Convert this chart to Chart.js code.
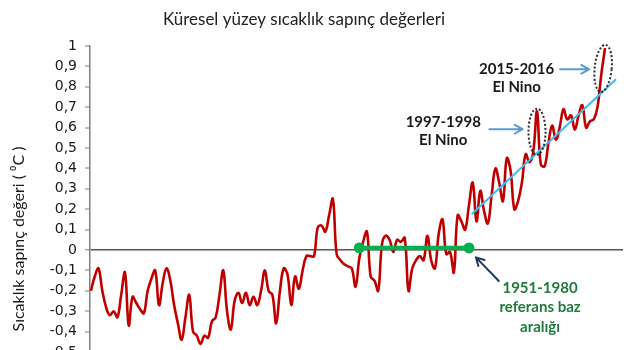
<!DOCTYPE html>
<html lang="tr">
<head>
<meta charset="utf-8">
<title>Küresel yüzey sıcaklık sapınç değerleri</title>
<script src="https://cdn.jsdelivr.net/npm/chart.js@4.4.1/dist/chart.umd.min.js"></script>
<style>
  html, body { margin: 0; padding: 0; background: #ffffff; overflow: hidden; width: 640px; height: 350px; }
  #frame { position: relative; width: 640px; height: 350px; overflow: hidden; }
  #chart { display: block; position: absolute; left: 0; top: 0; }
</style>
</head>
<body>
<div id="frame"><canvas id="chart" width="640" height="362"></canvas></div>
<script>
// Yıllık küresel yüzey sıcaklık sapması (°C), 1951-1980 ortalamasına göre
const years = [
  1880, 1881, 1882, 1883, 1884, 1885, 1886, 1887, 1888, 1889,
  1890, 1891, 1892, 1893, 1894, 1895, 1896, 1897, 1898, 1899,
  1900, 1901, 1902, 1903, 1904, 1905, 1906, 1907, 1908, 1909,
  1910, 1911, 1912, 1913, 1914, 1915, 1916, 1917, 1918, 1919,
  1920, 1921, 1922, 1923, 1924, 1925, 1926, 1927, 1928, 1929,
  1930, 1931, 1932, 1933, 1934, 1935, 1936, 1937, 1938, 1939,
  1940, 1941, 1942, 1943, 1944, 1945, 1946, 1947, 1948, 1949,
  1950, 1951, 1952, 1953, 1954, 1955, 1956, 1957, 1958, 1959,
  1960, 1961, 1962, 1963, 1964, 1965, 1966, 1967, 1968, 1969,
  1970, 1971, 1972, 1973, 1974, 1975, 1976, 1977, 1978, 1979,
  1980, 1981, 1982, 1983, 1984, 1985, 1986, 1987, 1988, 1989,
  1990, 1991, 1992, 1993, 1994, 1995, 1996, 1997, 1998, 1999,
  2000, 2001, 2002, 2003, 2004, 2005, 2006, 2007, 2008, 2009,
  2010, 2011, 2012, 2013, 2014, 2015, 2016
];
const anomaly = [
  -0.20, -0.13, -0.09, -0.20, -0.28, -0.32, -0.30, -0.33, -0.22, -0.11,
  -0.37, -0.23, -0.26, -0.29, -0.31, -0.20, -0.14, -0.10, -0.27, -0.16,
  -0.09, -0.15, -0.27, -0.36, -0.44, -0.33, -0.22, -0.40, -0.42, -0.46,
  -0.42, -0.43, -0.35, -0.33, -0.22, -0.10, -0.30, -0.39, -0.25, -0.21,
  -0.26, -0.21, -0.27, -0.23, -0.27, -0.20, -0.10, -0.20, -0.22, -0.36,
  -0.20, -0.09, -0.12, -0.27, -0.13, -0.19, -0.10, -0.03, -0.03, -0.03,
   0.11,  0.12,  0.09,  0.17,  0.25, -0.02, -0.05, -0.07, -0.08, -0.09,
  -0.18, -0.04,  0.04,  0.09, -0.13, -0.15, -0.20,  0.03,  0.07,  0.05,
  -0.01,  0.05,  0.04,  0.06, -0.20, -0.09, -0.05, -0.03, -0.05,  0.07,
  -0.05, -0.09,  0.08,  0.15, -0.02, -0.01, -0.11,  0.17,  0.14,  0.10,
   0.22,  0.33,  0.14,  0.29,  0.19,  0.13,  0.27,  0.40,  0.33,  0.24,
   0.45,  0.39,  0.20,  0.24,  0.33,  0.47,  0.43,  0.48,  0.68,  0.42,
   0.41,  0.52,  0.61,  0.54,  0.60,  0.69,  0.64,  0.66,  0.59,  0.66,
   0.71,  0.60,  0.63,  0.64,  0.70,  0.86,  0.99
];

// 1951-1980 referans dönemi (ortalama çizgisi)
const baseYears = [1951, 1980];
const baseLevel = [0.01, 0.01];

// 1980 sonrası doğrusal eğilim
const trendYears = [1980.7, 2018.9];
const trendValues = [0.175, 0.837];

// Y ekseni sınırları
const yMin = -0.5;
const yMax = 1.0;
const yStep = 0.1;

const toPoints = (xs, ys) => xs.map((x, i) => ({ x: x, y: ys[i] }));

// El Nino halkaları, açıklama yazıları ve oklar (veri koordinatlarında)
const notes = {
  rings: [
    { x: 1998.0, y: 0.580, rx: 2.25, ry: 0.113, tilt: 0.0 },
    { x: 2015.5, y: 0.890, rx: 2.25, ry: 0.116, tilt: 0.10 }
  ],
  labels: [
    { x: 1992.6, y: [0.886, 0.798], lines: ['2015-2016', 'El Nino'], color: '#1a1a1a' },
    { x: 1973.2, y: [0.629, 0.539], lines: ['1997-1998', 'El Nino'], color: '#1a1a1a' },
    { x: 1998.8, y: [-0.188, -0.281, -0.376], lines: ['1951-1980', 'referans baz', 'aralığı'], color: '#1f7a3c' }
  ],
  arrows: [
    { from: [2004.1, 0.886], to: [2011.8, 0.886], color: '#5b9bd5' },
    { from: [1985.4, 0.592], to: [1994.2, 0.592], color: '#5b9bd5' },
    { from: [1987.9, -0.152], to: [1981.85, -0.036], color: '#1f3a5f' }
  ]
};

const notesPlugin = {
  id: 'notes',
  afterDatasetsDraw(chart) {
    const { ctx, scales: { x, y } } = chart;
    ctx.save();

    // noktalı halkalar
    ctx.strokeStyle = '#2b2b2b';
    ctx.lineWidth = 2;
    ctx.setLineDash([2, 2]);
    notes.rings.forEach(r => {
      const cx = x.getPixelForValue(r.x);
      const cy = y.getPixelForValue(r.y);
      const rx = x.getPixelForValue(r.x + r.rx) - cx;
      const ry = y.getPixelForValue(r.y - r.ry) - cy;
      ctx.beginPath();
      ctx.ellipse(cx, cy, rx, ry, r.tilt, 0, Math.PI * 2);
      ctx.stroke();
    });
    ctx.setLineDash([]);

    // oklar
    notes.arrows.forEach(a => {
      const x1 = x.getPixelForValue(a.from[0]);
      const y1 = y.getPixelForValue(a.from[1]);
      const x2 = x.getPixelForValue(a.to[0]);
      const y2 = y.getPixelForValue(a.to[1]);
      const ang = Math.atan2(y2 - y1, x2 - x1);
      const head = 9;
      ctx.strokeStyle = a.color;
      ctx.lineWidth = 2;
      ctx.lineCap = 'round';
      ctx.lineJoin = 'round';
      ctx.beginPath();
      ctx.moveTo(x1, y1);
      ctx.lineTo(x2, y2);
      ctx.moveTo(x2 - head * Math.cos(ang - 0.5), y2 - head * Math.sin(ang - 0.5));
      ctx.lineTo(x2, y2);
      ctx.lineTo(x2 - head * Math.cos(ang + 0.5), y2 - head * Math.sin(ang + 0.5));
      ctx.stroke();
    });

    // açıklama yazıları
    ctx.font = 'bold 15px Lato';
    ctx.textAlign = 'center';
    ctx.textBaseline = 'middle';
    notes.labels.forEach(l => {
      ctx.fillStyle = l.color;
      l.lines.forEach((t, i) => {
        ctx.fillText(t, x.getPixelForValue(l.x), y.getPixelForValue(l.y[i]));
      });
    });
    ctx.restore();
  },
  afterDraw(chart) {
    const { ctx } = chart;
    ctx.save();
    // grafik başlığı
    ctx.fillStyle = '#222222';
    ctx.font = '17px Lato';
    ctx.textAlign = 'center';
    ctx.textBaseline = 'middle';
    ctx.fillText('Küresel yüzey sıcaklık sapınç değerleri', 304, 20);
    // dikey eksen başlığı
    ctx.translate(19, 239);
    ctx.rotate(-Math.PI / 2);
    ctx.font = '16px Lato';
    ctx.fillStyle = '#1a1a1a';
    ctx.fillText('Sıcaklık sapınç değeri ( ⁰C )', 0, 0);
    ctx.restore();
  }
};

new Chart(document.getElementById('chart'), {
  type: 'line',
  data: {
    datasets: [
      {
        label: '1951-1980 referans',
        data: toPoints(baseYears, baseLevel),
        borderColor: '#00b050',
        backgroundColor: '#00b050',
        borderWidth: 4.5,
        pointRadius: 5.5,
        pointHoverRadius: 5.5,
        pointBorderWidth: 0,
        tension: 0,
        order: 0
      },
      {
        label: 'Eğilim',
        data: toPoints(trendYears, trendValues),
        borderColor: '#3bbcf0',
        borderWidth: 2,
        pointRadius: 0,
        tension: 0,
        order: 1
      },
      {
        label: 'Sıcaklık sapması',
        data: toPoints(years, anomaly),
        borderColor: '#c00000',
        borderWidth: 2.6,
        pointRadius: 0,
        tension: 0.4,
        cubicInterpolationMode: 'default',
        order: 2
      }
    ]
  },
  options: {
    responsive: false,
    animation: false,
    events: [],
    devicePixelRatio: 1,
    layout: { padding: { top: 46, right: 17, bottom: 10, left: 0 } },
    plugins: {
      legend: { display: false },
      title: { display: false },
      tooltip: { enabled: false }
    },
    scales: {
      x: {
        type: 'linear',
        min: 1879.75,
        max: 2020.75,
        display: false
      },
      y: {
        min: yMin,
        max: yMax,
        afterFit(scale) {
          // eksen genişliği sabit; uç etiketler çizim alanını daraltmasın
          scale.width = 90;
          scale.paddingTop = 0;
          scale.paddingBottom = 0;
        },
        ticks: {
          stepSize: yStep,
          padding: 8,
          color: '#1a1a1a',
          font: { family: 'DejaVu Sans', size: 14 },
          callback(v) {
            const r = Math.round(v * 10) / 10;
            if (r === 0) return '0';
            if (r === 1) return '1';
            return r.toFixed(1).replace('.', ',');
          }
        },
        grid: {
          drawOnChartArea: true,
          drawTicks: true,
          tickLength: 5,
          tickColor: '#7f7f7f',
          tickWidth: 1,
          color(c) { return c.tick && Math.abs(c.tick.value) < 1e-9 ? '#555555' : 'rgba(0,0,0,0)'; },
          lineWidth(c) { return c.tick && Math.abs(c.tick.value) < 1e-9 ? 1.5 : 0; }
        },
        border: { display: true, color: '#7f7f7f', width: 1.5 }
      }
    }
  },
  plugins: [notesPlugin]
});
</script>
</body>
</html>
